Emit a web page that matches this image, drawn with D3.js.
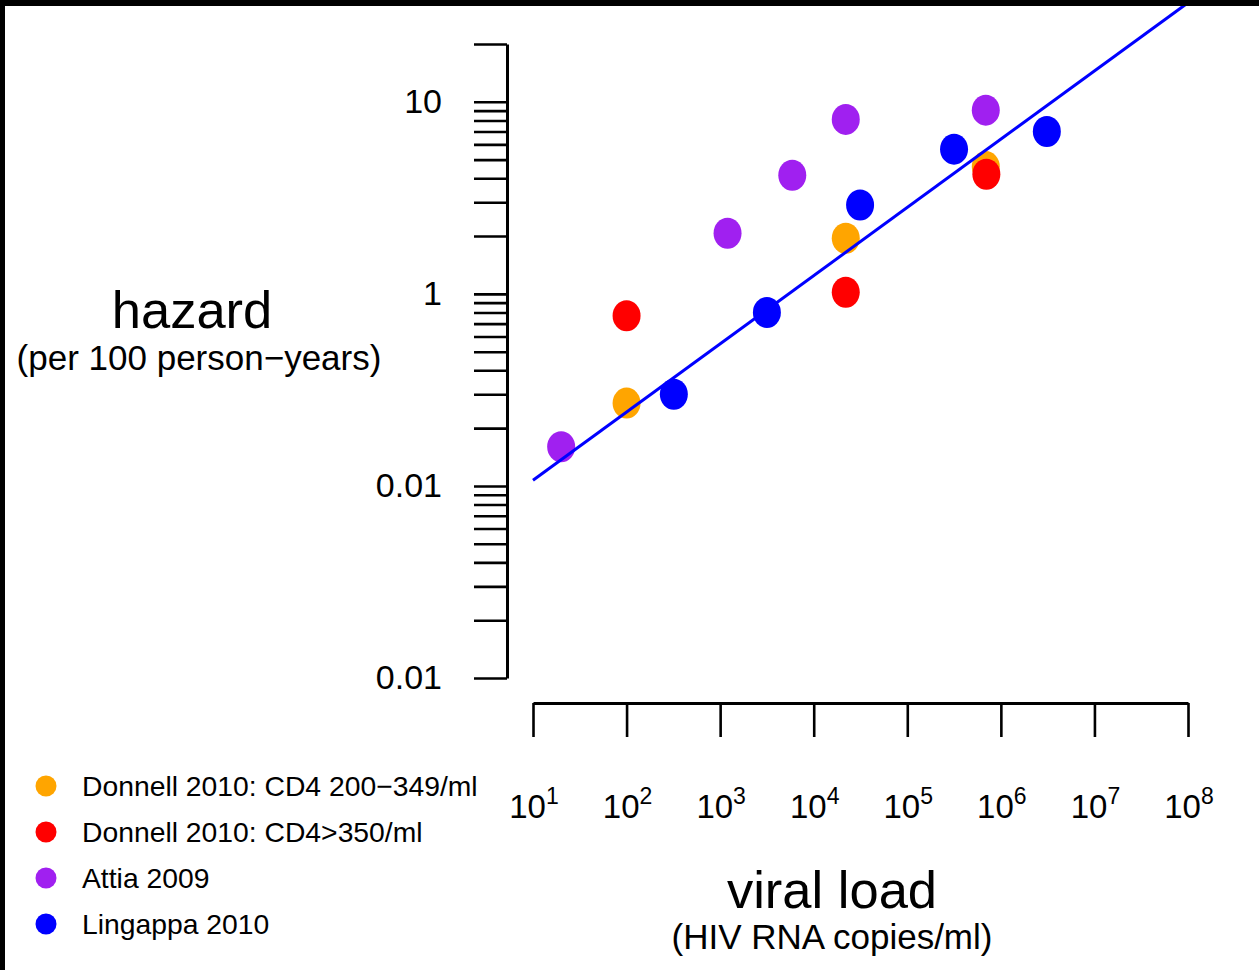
<!DOCTYPE html>
<html>
<head>
<meta charset="utf-8">
<script src="https://cdn.jsdelivr.net/npm/d3@7"></script>
<style>
  html, body { margin: 0; padding: 0; background: #fff; }
  svg { display: block; font-family: "Liberation Sans", Arial, Helvetica, sans-serif; }
</style>
</head>
<body>
<svg id="chart" width="1259" height="970"></svg>
<script>
// ---------- data ----------
const seriesNames = ["Donnell 2010: CD4 200\u2212349/ml", "Donnell 2010: CD4>350/ml", "Attia 2009", "Lingappa 2010"];
const seriesColors = ["#FFA500", "#FF0000", "#A020F0", "#0000FF"];

// viral load (copies/ml) and hazard (per 100 person-years)
const donnellLowVL = [100, 22000, 690000];
const donnellLowHz = [0.27, 1.95, 4.6];
const donnellHighVL = [100, 22000, 700000];
const donnellHighHz = [0.77, 1.02, 4.2];
const attiaVL = [20, 1200, 5900, 22000, 690000];
const attiaHz = [0.16, 2.07, 4.15, 8.1, 9.05];
const lingappaVL = [320, 3160, 31300, 316000, 3100000];
const lingappaHz = [0.30, 0.80, 2.9, 5.67, 7.0];

// fitted line endpoints
const fitVL = [10, 1e8];
const fitHz = [0.107, 32.8];

// axis ticks
const xTickValues = [1e1, 1e2, 1e3, 1e4, 1e5, 1e6, 1e7, 1e8];
const xTickExponents = ["1", "2", "3", "4", "5", "6", "7", "8"];
const yTickValues = [20, 10, 9, 8, 7, 6, 5, 4, 3, 2, 1, 0.9, 0.8, 0.7, 0.6, 0.5, 0.4, 0.3, 0.2,
                     0.1, 0.09, 0.08, 0.07, 0.06, 0.05, 0.04, 0.03, 0.02, 0.01];
const yLabelValues = [10, 1, 0.1, 0.01];
const yLabelTexts = ["10", "1", "0.01", "0.01"];

// ---------- chart ----------
const svg = d3.select("#chart");
const x = d3.scaleLog().domain([1e1, 1e8]).range([533, 1188]);
const y = d3.scaleLog().domain([0.01, 20]).range([678, 44]);

// y axis
const yAxis = d3.axisLeft(y)
  .tickValues(yTickValues)
  .tickSize(33)
  .tickSizeOuter(0)
  .tickPadding(32)
  .tickFormat(d => {
    const i = yLabelValues.findIndex(v => Math.abs(Math.log10(v) - Math.log10(d)) < 1e-9);
    return i >= 0 ? yLabelTexts[i] : "";
  });
const gy = svg.append("g").attr("transform", "translate(507,0)").call(yAxis);
gy.select(".domain").attr("stroke", "#000").attr("stroke-width", 3);
gy.selectAll(".tick line").attr("stroke", "#000").attr("stroke-width", 2.6);
gy.selectAll(".tick text").attr("font-size", 34).attr("fill", "#000")
  .attr("font-family", "'Liberation Sans', Arial, sans-serif");

// x axis
const xAxis = d3.axisBottom(x)
  .tickValues(xTickValues)
  .tickSize(34)
  .tickSizeOuter(0)
  .tickFormat("");
const gx = svg.append("g").attr("transform", "translate(0,703)").call(xAxis);
gx.select(".domain").attr("stroke", "#000").attr("stroke-width", 3);
gx.selectAll(".tick line").attr("stroke", "#000").attr("stroke-width", 2.6);

const xl = svg.append("g").selectAll("text").data(xTickValues).join("text")
  .attr("x", d => x(d) + 1)
  .attr("y", 818)
  .attr("text-anchor", "middle")
  .attr("fill", "#000");
xl.append("tspan").attr("font-size", 33).text("10");
xl.append("tspan").attr("font-size", 23).attr("dy", -14).text((d, i) => xTickExponents[i]);

// points
const groups = [
  [donnellLowVL, donnellLowHz],
  [donnellHighVL, donnellHighHz],
  [attiaVL, attiaHz],
  [lingappaVL, lingappaHz]
];
groups.forEach((g, gi) => {
  const pts = g[0].map((v, i) => ({ vl: v, hz: g[1][i] }));
  svg.append("g").selectAll("ellipse").data(pts).join("ellipse")
    .attr("cx", d => x(d.vl))
    .attr("cy", d => y(d.hz))
    .attr("rx", 14)
    .attr("ry", 15.5)
    .attr("fill", seriesColors[gi]);
});

// fitted line
const fitPts = fitVL.map((v, i) => [v, fitHz[i]]);
svg.append("path")
  .datum(fitPts)
  .attr("d", d3.line().x(d => x(d[0])).y(d => y(d[1])))
  .attr("fill", "none")
  .attr("stroke", "#0000FF")
  .attr("stroke-width", 3);

// axis titles
svg.append("text").attr("x", 192).attr("y", 328).attr("text-anchor", "middle")
  .attr("font-size", 52.5).attr("fill", "#000").text("hazard");
svg.append("text").attr("x", 199).attr("y", 370).attr("text-anchor", "middle")
  .attr("font-size", 35).attr("fill", "#000").text("(per 100 person\u2212years)");
svg.append("text").attr("x", 832).attr("y", 908).attr("text-anchor", "middle")
  .attr("font-size", 52.5).attr("fill", "#000").text("viral load");
svg.append("text").attr("x", 832).attr("y", 949).attr("text-anchor", "middle")
  .attr("font-size", 35).attr("fill", "#000").text("(HIV RNA copies/ml)");

// legend
const legend = svg.append("g").selectAll("g").data(seriesNames).join("g")
  .attr("transform", (d, i) => `translate(0,${786 + i * 46})`);
legend.append("circle").attr("cx", 46).attr("cy", 0).attr("r", 10.5)
  .attr("fill", (d, i) => seriesColors[i]);
legend.append("text").attr("x", 82).attr("y", 10).attr("font-size", 28.3)
  .attr("fill", "#000").text(d => d);

// black frame edges
svg.append("rect").attr("x", 0).attr("y", 0).attr("width", 1259).attr("height", 6).attr("fill", "#000");
svg.append("rect").attr("x", 0).attr("y", 0).attr("width", 5).attr("height", 970).attr("fill", "#000");
</script>
</body>
</html>
